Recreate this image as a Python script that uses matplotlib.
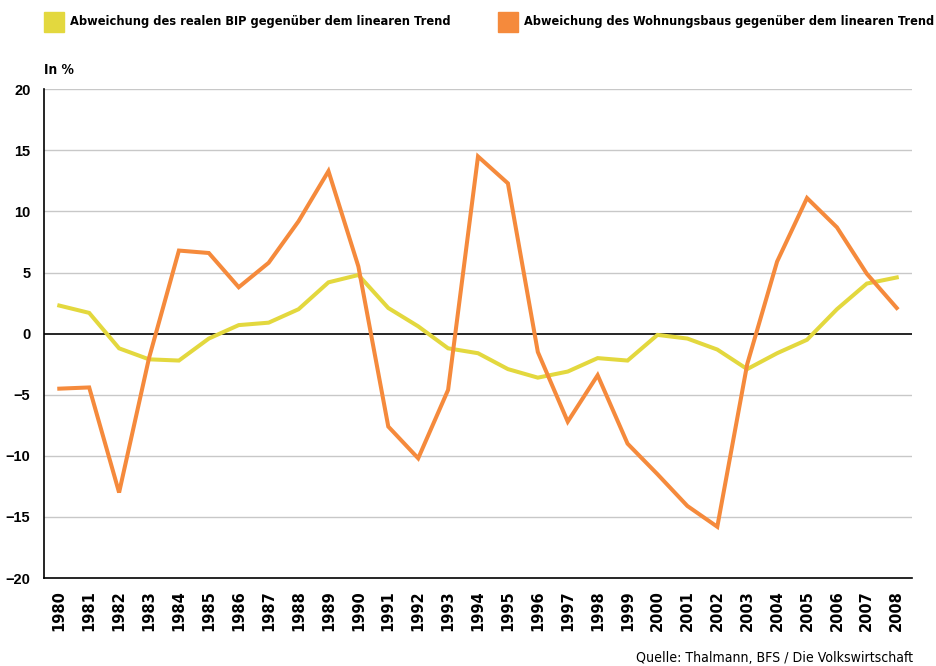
import matplotlib.pyplot as plt

# data (deviation from linear trend, in %)
years = list(range(1980, 2009))
bip = [2.3, 1.7, -1.2, -2.1, -2.2, -0.4, 0.7, 0.9, 2.0, 4.2, 4.8, 2.1, 0.6, -1.2,
       -1.6, -2.9, -3.6, -3.1, -2.0, -2.2, -0.1, -0.4, -1.3, -2.9, -1.6, -0.5,
       2.0, 4.1, 4.6]
wohnbau = [-4.5, -4.4, -13.0, -2.0, 6.8, 6.6, 3.8, 5.8, 9.2, 13.3, 5.5, -7.6,
           -10.2, -4.6, 14.5, 12.3, -1.5, -7.2, -3.4, -9.0, -11.5, -14.1, -15.8,
           -2.5, 5.9, 11.1, 8.7, 4.9, 2.1]
yticks = [-20, -15, -10, -5, 0, 5, 10, 15, 20]

label_bip = "Abweichung des realen BIP gegenüber dem linearen Trend"
label_wb = "Abweichung des Wohnungsbaus gegenüber dem linearen Trend"
yellow = "#E3D83E"
orange = "#F58A3C"

fig = plt.figure(figsize=(9.37, 6.66), dpi=100)
ax = fig.add_axes([0.0473, 0.132, 0.9257, 0.734])

ax.plot(years, bip, color=yellow, lw=2.9, solid_joinstyle='miter', zorder=3)
ax.plot(years, wohnbau, color=orange, lw=2.9, solid_joinstyle='miter', zorder=4)

ax.set_xlim(1979.5, 2008.5)
ax.set_ylim(-20, 20)
ax.set_yticks(yticks)
ax.set_yticklabels([str(t).replace('-', '\u2212') for t in yticks],
                   fontweight='bold', fontsize=10.5, family='Liberation Sans')
ax.set_xticks(years)
ax.set_xticklabels([str(y) for y in years], rotation=90, fontweight='bold',
                   fontsize=10.5, family='DejaVu Sans', va='top')
ax.tick_params(axis='both', length=0)
ax.tick_params(axis='x', pad=9)
ax.tick_params(axis='y', pad=10)

for t in yticks:
    if t in (0, -20):
        continue
    ax.axhline(t, color='#c8c8c8', lw=1.0, zorder=1)
ax.axhline(0, color='black', lw=1.2, zorder=2)

for s in ['top', 'right']:
    ax.spines[s].set_visible(False)
ax.spines['left'].set_linewidth(1.2)
ax.spines['bottom'].set_linewidth(1.2)


def narrow_text(x, y, s, width_px, ha='left', weight='bold'):
    # condensed font, size adjusted so the text takes the width seen in the reference
    t = fig.text(x / 937, 1 - y / 666, s, fontsize=11, fontweight=weight,
                 family='DejaVu Sans', fontstretch='condensed', va='center', ha=ha)
    r = fig.canvas.get_renderer()
    w = t.get_window_extent(r).width
    t.set_fontsize(11 * width_px / w)
    return t


# legend drawn as squares + text at the top
fig.patches.append(plt.Rectangle((44 / 937, 1 - 32 / 666), 20 / 937, 20 / 666,
                                 transform=fig.transFigure, color=yellow))
narrow_text(70, 22, label_bip, 380)
fig.patches.append(plt.Rectangle((498 / 937, 1 - 32 / 666), 20 / 937, 20 / 666,
                                 transform=fig.transFigure, color=orange))
narrow_text(524, 22, label_wb, 408)

narrow_text(44, 70, "In %", 30)
narrow_text(913, 658, "Quelle: Thalmann, BFS / Die Volkswirtschaft", 276,
            ha='right', weight='normal')

plt.savefig('out.png', dpi=100)
